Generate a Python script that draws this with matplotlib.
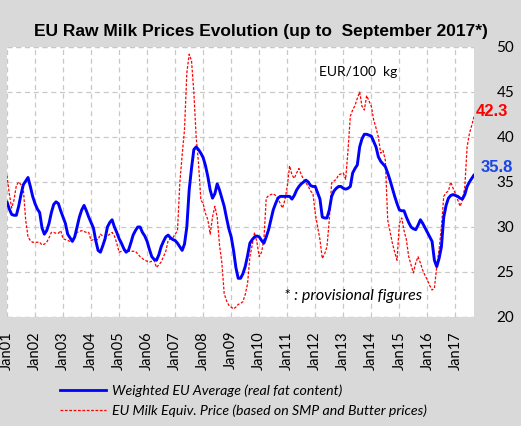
import matplotlib
matplotlib.use("Agg")
import matplotlib.pyplot as plt
import numpy as np
from matplotlib.lines import Line2D

# Monthly values Jan 2001 .. Sep 2017 (EUR/100 kg)
weighted_eu_avg = [
    # 2001
    32.8, 32.0, 31.4, 31.3, 31.3, 32.3, 33.6, 34.7, 35.1, 35.5, 34.5, 33.4,
    # 2002
    32.6, 32.0, 31.6, 29.9, 29.2, 29.6, 30.4, 31.6, 32.5, 32.8, 32.6, 31.8,
    # 2003
    31.1, 30.4, 29.2, 28.8, 28.4, 28.9, 30.0, 31.1, 31.9, 32.4, 31.8, 31.1,
    # 2004
    30.5, 29.9, 28.5, 27.4, 27.2, 27.9, 28.7, 30.0, 30.5, 30.8, 30.0, 29.4,
    # 2005
    28.7, 28.2, 27.6, 27.2, 27.4, 28.2, 29.1, 29.6, 30.0, 30.0, 29.4, 29.0,
    # 2006
    28.4, 27.5, 26.7, 26.4, 26.3, 26.9, 27.8, 28.4, 28.9, 29.1, 28.8, 28.6,
    # 2007
    28.5, 28.2, 27.8, 27.4, 28.1, 30.0, 34.1, 36.5, 38.6, 38.9, 38.6, 38.2,
    # 2008
    37.7, 36.8, 35.6, 34.1, 33.2, 33.7, 34.8, 34.1, 33.2, 32.3, 31.0, 29.8,
    # 2009
    28.9, 27.4, 25.5, 24.3, 24.3, 24.8, 25.6, 26.8, 28.2, 28.6, 28.9, 29.0,
    # 2010
    28.9, 28.5, 28.2, 28.9, 29.7, 30.8, 31.9, 32.6, 33.2, 33.4, 33.4, 33.4,
    # 2011
    33.4, 33.4, 33.1, 33.5, 34.1, 34.5, 34.8, 35.0, 35.2, 35.0, 34.6, 34.5,
    # 2012
    34.5, 33.8, 33.1, 31.1, 31.0, 31.0, 31.9, 33.4, 34.0, 34.3, 34.5, 34.5,
    # 2013
    34.3, 34.2, 34.3, 34.5, 36.0, 36.5, 36.9, 38.9, 39.8, 40.3, 40.3, 40.2,
    # 2014
    40.1, 39.5, 38.9, 37.8, 37.3, 37.0, 36.7, 36.0, 35.2, 34.3, 33.4, 32.6,
    # 2015
    31.9, 31.8, 31.8, 31.1, 30.5, 30.0, 29.8, 29.7, 30.2, 30.8, 30.4, 29.9,
    # 2016
    29.4, 28.9, 28.4, 26.3, 25.6, 26.5, 27.8, 31.1, 32.4, 33.2, 33.5, 33.6,
    # 2017
    33.5, 33.4, 33.2, 33.1, 33.6, 34.5, 35.0, 35.4, 35.8,
]

milk_equiv_price = [
    # 2001
    35.7, 33.7, 32.1, 33.0, 34.6, 35.0, 34.7, 34.2, 30.8, 28.9, 28.5, 28.3,
    # 2002
    28.3, 28.3, 28.3, 28.0, 28.1, 28.3, 28.8, 29.4, 29.4, 29.3, 29.3, 29.6,
    # 2003
    28.7, 28.6, 28.5, 28.4, 28.5, 28.9, 29.4, 29.5, 29.6, 29.5, 29.4, 29.4,
    # 2004
    28.5, 28.6, 28.6, 28.6, 29.2, 29.0, 28.9, 29.0, 29.2, 29.4, 29.0, 28.2,
    # 2005
    27.2, 27.3, 27.4, 27.4, 27.3, 27.3, 27.3, 27.3, 27.0, 26.7, 26.5, 26.3,
    # 2006
    26.2, 26.1, 26.2, 26.3, 25.5, 25.8, 26.1, 26.7, 27.3, 28.5, 28.7, 28.8,
    # 2007
    29.2, 29.6, 34.9, 38.0, 40.8, 47.1, 49.2, 48.5, 45.0, 40.0, 37.1, 33.0,
    # 2008
    32.6, 31.5, 30.8, 29.2, 31.1, 32.3, 31.1, 28.0, 26.0, 22.6, 21.8, 21.3,
    # 2009
    21.1, 20.9, 21.1, 21.4, 21.5, 21.7, 22.5, 23.7, 26.7, 28.0, 29.4, 28.3,
    # 2010
    26.7, 27.2, 28.6, 33.2, 33.5, 33.6, 33.7, 33.5, 33.2, 32.6, 32.1, 33.0,
    # 2011
    34.5, 36.8, 35.8, 35.4, 36.0, 36.5, 35.8, 35.3, 34.9, 34.5, 34.0, 33.7,
    # 2012
    31.5, 30.0, 28.6, 26.5, 27.0, 27.8, 30.8, 34.9, 35.1, 35.3, 35.8, 35.9,
    # 2013
    36.0, 35.3, 38.5, 42.3, 43.0, 43.5, 44.3, 45.0, 43.4, 43.0, 44.6, 44.0,
    # 2014
    43.4, 41.9, 41.0, 40.0, 38.2, 38.5, 37.4, 30.8, 29.5, 28.2, 27.2, 26.3,
    # 2015
    30.4, 31.0, 29.6, 28.6, 26.7, 25.8, 24.9, 26.0, 26.7, 26.0, 25.2, 24.6,
    # 2016
    24.1, 23.5, 23.0, 23.2, 25.6, 27.5, 30.0, 33.4, 33.8, 34.0, 35.0, 34.3,
    # 2017
    33.7, 33.0, 32.3, 33.0, 34.4, 38.9, 40.4, 41.3, 42.3,
]

tick_years = list(range(2001, 2018))
tick_labels = ["Jan%02d" % (y % 100) for y in tick_years]
y_ticks = [20, 25, 30, 35, 40, 45, 50]

title = "EU Raw Milk Prices Evolution (up to  September 2017*)"
label_blue = "Weighted EU Average (real fat content)"
label_red = "EU Milk Equiv. Price (based on SMP and Butter prices)"

n = len(weighted_eu_avg)
x = 2001 + np.arange(n) / 12.0

BG = "#d9d9d9"
GRID = "#c8c8c8"
BLUE = "#0000ff"
RED = "#ff0000"
FONT = "Lato"

fig = plt.figure(figsize=(5.21, 4.26), dpi=100, facecolor=BG)
ax = fig.add_axes([0.0134, 0.2559, 0.8966, 0.6338])
ax.set_facecolor("white")

ax.plot(x, milk_equiv_price, color=RED, lw=0.9, ls=(0, (2.2, 1.3)), zorder=3)
ax.plot(x, weighted_eu_avg, color=BLUE, lw=2.1, zorder=4, solid_capstyle="round",
        solid_joinstyle="round")

ax.set_xlim(2001, x[-1])
ax.set_ylim(20, 50)
ax.set_xticks(tick_years)
ax.set_xticklabels(tick_labels, rotation=90, fontsize=10.5, family=FONT)
ax.set_yticks(y_ticks)
ax.set_yticklabels([str(v) for v in y_ticks], fontsize=11, family=FONT)
ax.yaxis.tick_right()
ax.tick_params(axis="both", length=0)
ax.tick_params(axis="y", pad=16)
ax.tick_params(axis="x", pad=10)

ax.grid(True, color=GRID, ls=(0, (4, 3)), lw=0.9)
for s in ax.spines.values():
    s.set_visible(False)
ax.axhline(50, color=GRID, ls=(0, (4, 3)), lw=0.9, zorder=1)
ax.axhline(20, color=GRID, ls=(0, (4, 3)), lw=0.9, zorder=1)

fig.text(0.5, 0.925, title, ha="center", va="center", fontsize=12.5,
         fontweight="bold", family="Liberation Sans")

ax.text(0.752, 0.907, "EUR/100  kg", transform=ax.transAxes, fontsize=10,
        family=FONT, ha="center", va="center")
ax.text(0.74, 0.078, "* : provisional figures", transform=ax.transAxes,
        fontsize=11.5, family=FONT, style="italic", ha="center", va="center")

# end-value annotations
fig.text(491.5 / 521, 1 - 111 / 426, "%.1f" % milk_equiv_price[-1], color=RED,
         fontsize=12, fontweight="bold", family="Liberation Sans",
         ha="center", va="center")
fig.text(497 / 521, 1 - 167 / 426, "%.1f" % weighted_eu_avg[-1], color="#1a44e8",
         fontsize=12, fontweight="bold", family="Liberation Sans",
         ha="center", va="center")

# legend
h1 = Line2D([], [], color=BLUE, lw=2.0)
h2 = Line2D([], [], color=RED, lw=0.9, ls=(0, (2.2, 1.3)))
leg = fig.legend([h1, h2], [label_blue, label_red],
                 loc="upper left", bbox_to_anchor=(47 / 521, 1 - 372 / 426),
                 frameon=False, handlelength=3.3, handletextpad=0.4,
                 labelspacing=0.5, prop={"family": FONT, "style": "italic", "size": 10.2})

fig.savefig("out.png", dpi=100, facecolor=BG)
